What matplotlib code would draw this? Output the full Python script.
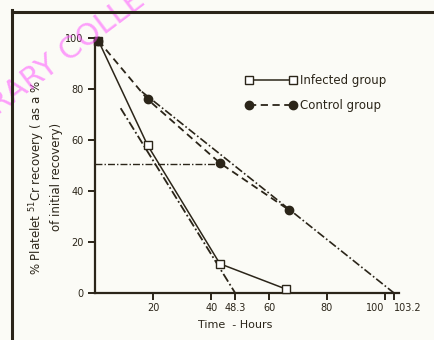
import numpy as np
import matplotlib.pyplot as plt
from matplotlib.lines import Line2D

# data
infected_hours = [1, 18, 43, 66]
infected_pct = [99, 58, 11.5, 1.5]
control_hours = [1, 18, 43, 67]
control_pct = [99, 76, 51, 32.5]

# fitted (dash-dot) lines and half-life marker
infected_fit_hours = [8.7, 48.3]
infected_fit_pct = [72.5, 0]
control_fit_hours = [16, 103.2]
control_fit_pct = [79, 0]
half_hours = [0, 43]
half_pct = [50.5, 50.5]

xtick_vals = [20, 40, 48.3, 60, 80, 100, 103.2]
xtick_labels = ['20', '40', '48.3', '60', '80', '100', '103.2']
ytick_vals = [0, 20, 40, 60, 80, 100]

ink = '#2b2519'
paper = '#fbfbf6'

plt.rcParams['font.family'] = ['DejaVu Sans']
fig = plt.figure(figsize=(4.34, 3.4), dpi=100, facecolor=paper)
ax = fig.add_axes([0.220, 0.138, 0.700, 0.750], facecolor=paper)

# watermark from the scan
fig.text(0.15, 0.84, 'LIBRARY COLLEGE', color='#ff44ff', alpha=0.5, fontsize=22,
         rotation=37, ha='center', va='center', zorder=0)

# outer frame of the scanned page
fig.add_artist(Line2D([0.028, 0.028], [0.0, 0.97], color=ink, lw=2.2))
fig.add_artist(Line2D([0.028, 1.0], [0.965, 0.965], color=ink, lw=2.2))

ax.plot(infected_hours, infected_pct, '-', color=ink, lw=1.1, marker='s', ms=5.5,
        mfc='white', mec=ink, mew=1.0, clip_on=False, zorder=4, label='Infected group')
ax.plot(control_hours, control_pct, '--', color=ink, lw=1.3, dashes=(4, 2.5), marker='o',
        ms=6, mfc=ink, mec=ink, clip_on=False, zorder=4, label='Control group')
ax.plot(infected_fit_hours, infected_fit_pct, color=ink, lw=1.3, dashes=(5, 1.5, 1, 1.5),
        clip_on=False)
ax.plot(control_fit_hours, control_fit_pct, color=ink, lw=1.2, dashes=(5, 1.5, 1, 1.5),
        clip_on=False)
ax.plot(half_hours, half_pct, color=ink, lw=1.0, dashes=(5, 1.5, 1, 1.5), clip_on=False)

ax.set_xlim(0, 105)
ax.set_ylim(0, 100)
ax.set_xticks(xtick_vals)
ax.set_xticklabels(xtick_labels)
ax.set_yticks(ytick_vals)
ax.spines['top'].set_visible(False)
ax.spines['right'].set_visible(False)
for s in ['left', 'bottom']:
    ax.spines[s].set_color(ink)
    ax.spines[s].set_linewidth(1.6)
ax.tick_params(axis='both', colors=ink, labelsize=7, width=1.4, length=5, labelcolor=ink)
ax.tick_params(axis='x', pad=2)
xlabels = ax.get_xticklabels()
xlabels[5].set_horizontalalignment('right')
xlabels[6].set_horizontalalignment('left')

ax.set_xlabel('Time  - Hours', fontsize=8, color=ink)
ax.xaxis.set_label_coords(0.46, -0.105)
ax.set_ylabel('% Platelet $^{51}$Cr recovery ( as a %\nof initial recovery)',
              fontsize=8.5, color=ink, linespacing=1.25, va='center')
ax.yaxis.set_label_coords(-0.165, 0.455)

ax.legend(loc='upper left', bbox_to_anchor=(0.46, 0.9), frameon=False, numpoints=2,
          handlelength=4.3, fontsize=8.5, labelspacing=1.0, handletextpad=0.3,
          labelcolor=ink)

fig.savefig('out.png', dpi=100, facecolor=paper)
